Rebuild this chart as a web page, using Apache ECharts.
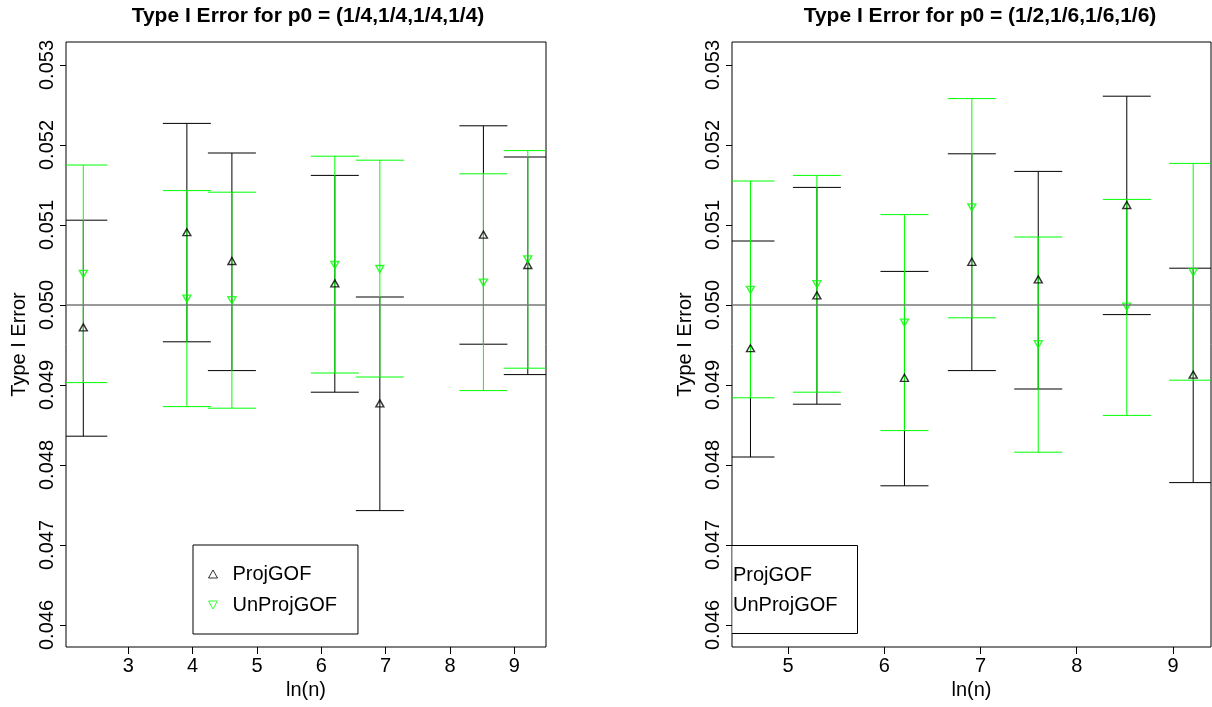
<!DOCTYPE html>
<html>
<head>
<meta charset="utf-8">
<script src="https://cdn.jsdelivr.net/npm/echarts@6/dist/echarts.min.js"></script>
<style>
  html, body { margin: 0; padding: 0; background: #fff; }
  #chart { width: 1212px; height: 707px; }
</style>
</head>
<body>
<div id="chart"></div>
<script>
// ---- data ----
// left panel: p0 = (1/4,1/4,1/4,1/4)
const xLeft = [2.30, 3.91, 4.61, 6.21, 6.91, 8.52, 9.21];
const projLeft = [0.04972, 0.05091, 0.05055, 0.05027, 0.04877, 0.05088, 0.05050];
const projLeftLo = [0.04836, 0.04954, 0.04918, 0.04891, 0.04743, 0.04951, 0.04913];
const projLeftHi = [0.05106, 0.05227, 0.05190, 0.05162, 0.05010, 0.05224, 0.05185];
const unprojLeft = [0.05039, 0.05008, 0.05006, 0.05050, 0.05045, 0.05028, 0.05057];
const unprojLeftLo = [0.04903, 0.04873, 0.04871, 0.04915, 0.04910, 0.04893, 0.04921];
const unprojLeftHi = [0.05175, 0.05143, 0.05141, 0.05186, 0.05181, 0.05164, 0.05193];

// right panel: p0 = (1/2,1/6,1/6,1/6)
const xRight = [4.61, 5.30, 6.21, 6.91, 7.60, 8.52, 9.21];
const projRight = [0.04946, 0.05012, 0.04909, 0.05054, 0.05032, 0.05125, 0.04913];
const projRightLo = [0.04810, 0.04876, 0.04774, 0.04918, 0.04895, 0.04988, 0.04778];
const projRightHi = [0.05080, 0.05147, 0.05042, 0.05189, 0.05167, 0.05261, 0.05046];
const unprojRight = [0.05019, 0.05026, 0.04978, 0.05122, 0.04951, 0.04998, 0.05041];
const unprojRightLo = [0.04884, 0.04891, 0.04843, 0.04984, 0.04816, 0.04862, 0.04906];
const unprojRightHi = [0.05155, 0.05162, 0.05113, 0.05258, 0.05085, 0.05132, 0.05177];

const yTicks = [0.046, 0.047, 0.048, 0.049, 0.050, 0.051, 0.052, 0.053];
const xTicksLeft = [3, 4, 5, 6, 7, 8, 9];
const xTicksRight = [5, 6, 7, 8, 9];
const refLevel = 0.05;

const FONT = 'Liberation Sans, Arial, Helvetica, sans-serif';
const GREEN = '#00ff00';

var chart = echarts.init(document.getElementById('chart'));

function zip(xs, ys) {
  return xs.map(function (x, i) { return [x, ys[i]]; });
}
function zipCI(xs, lo, hi) {
  return xs.map(function (x, i) { return [x, lo[i], hi[i]]; });
}

// error bar with caps, clipped to the plot box
function errorBar(color) {
  return function (params, api) {
    var lo = api.coord([api.value(0), api.value(1)]);
    var hi = api.coord([api.value(0), api.value(2)]);
    var cs = params.coordSys;
    var half = 24;
    var x0 = Math.max(cs.x, lo[0] - half);
    var x1 = Math.min(cs.x + cs.width, lo[0] + half);
    var style = { stroke: color, lineWidth: 1 };
    return {
      type: 'group',
      children: [
        { type: 'line', shape: { x1: lo[0], y1: lo[1], x2: hi[0], y2: hi[1] }, style: style },
        { type: 'line', shape: { x1: x0, y1: lo[1], x2: x1, y2: lo[1] }, style: style },
        { type: 'line', shape: { x1: x0, y1: hi[1], x2: x1, y2: hi[1] }, style: style }
      ]
    };
  };
}

function xAxisFor(idx, min, max, ticks) {
  return {
    gridIndex: idx, type: 'value', min: min, max: max,
    name: 'ln(n)', nameLocation: 'middle', nameGap: 32,
    nameTextStyle: { fontFamily: FONT, fontSize: 20, color: '#000' },
    axisLine: { show: false },
    axisTick: { show: true, length: 7, customValues: ticks, lineStyle: { color: '#000' } },
    axisLabel: { customValues: ticks, margin: 9, fontFamily: FONT, fontSize: 20, color: '#000' },
    splitLine: { show: false }
  };
}
function yAxisFor(idx) {
  return {
    gridIndex: idx, type: 'value', min: 0.045725, max: 0.0532875,
    name: 'Type I Error', nameLocation: 'middle', nameRotate: 90, nameGap: 37,
    nameTextStyle: { fontFamily: FONT, fontSize: 20, color: '#000' },
    axisLine: { show: false },
    axisTick: { show: true, length: 6, customValues: yTicks, lineStyle: { color: '#000' } },
    axisLabel: {
      customValues: yTicks, rotate: 90, margin: 9,
      fontFamily: FONT, fontSize: 20, color: '#000',
      formatter: function (v) { return v.toFixed(3); }
    },
    splitLine: { show: false }
  };
}

function panelSeries(idx, xs, proj, projLo, projHi, unproj, unprojLo, unprojHi) {
  return [
    {
      name: 'ref', type: 'line', xAxisIndex: idx, yAxisIndex: idx, data: [],
      markLine: {
        silent: true, symbol: 'none', label: { show: false },
        lineStyle: { color: '#777', width: 1.5, type: 'solid' },
        data: [{ yAxis: refLevel }]
      }
    },
    {
      name: 'ProjGOF CI', type: 'custom', xAxisIndex: idx, yAxisIndex: idx,
      renderItem: errorBar('#000'), encode: { x: 0, y: [1, 2] },
      data: zipCI(xs, projLo, projHi), z: 2
    },
    {
      name: 'UnProjGOF CI', type: 'custom', xAxisIndex: idx, yAxisIndex: idx,
      renderItem: errorBar(GREEN), encode: { x: 0, y: [1, 2] },
      data: zipCI(xs, unprojLo, unprojHi), z: 3
    },
    {
      name: 'ProjGOF', type: 'scatter', xAxisIndex: idx, yAxisIndex: idx,
      symbol: 'triangle', symbolSize: [8, 7],
      itemStyle: { color: 'rgba(0,0,0,0)', borderColor: '#000', borderWidth: 1.4 },
      data: zip(xs, proj), z: 4
    },
    {
      name: 'UnProjGOF', type: 'scatter', xAxisIndex: idx, yAxisIndex: idx,
      symbol: 'triangle', symbolRotate: 180, symbolSize: [8, 7],
      itemStyle: { color: 'rgba(0,0,0,0)', borderColor: GREEN, borderWidth: 1.4 },
      data: zip(xs, unproj), z: 4
    }
  ];
}

var option = {
  animation: false,
  backgroundColor: '#fff',
  title: [
    {
      text: 'Type I Error for p0 = (1/4,1/4,1/4,1/4)', left: 308, top: 6, textAlign: 'center', padding: 0,
      textStyle: { fontFamily: FONT, fontSize: 21, fontWeight: 'bold', color: '#000' }
    },
    {
      text: 'Type I Error for p0 = (1/2,1/6,1/6,1/6)', left: 980, top: 6, textAlign: 'center', padding: 0,
      textStyle: { fontFamily: FONT, fontSize: 21, fontWeight: 'bold', color: '#000' }
    }
  ],
  grid: [
    { left: 66, top: 42, width: 480, height: 605, show: true, borderColor: '#000', borderWidth: 1, backgroundColor: 'transparent' },
    { left: 732, top: 42, width: 479, height: 605, show: true, borderColor: '#000', borderWidth: 1, backgroundColor: 'transparent' }
  ],
  xAxis: [xAxisFor(0, 2.031, 9.493, xTicksLeft), xAxisFor(1, 4.418, 9.395, xTicksRight)],
  yAxis: [yAxisFor(0), yAxisFor(1)],
  legend: {
    left: 193, top: 545, orient: 'vertical',
    width: 165,
    padding: [19, 21, 19, 15], itemGap: 11,
    itemWidth: 9, itemHeight: 8,
    borderColor: '#000', borderWidth: 1, backgroundColor: '#fff',
    textStyle: { fontFamily: FONT, fontSize: 20, color: '#000', padding: [0, 0, 0, 10] },
    data: [
      { name: 'ProjGOF', icon: 'triangle', itemStyle: { color: 'rgba(0,0,0,0)', borderColor: '#000', borderWidth: 1 } },
      { name: 'UnProjGOF', icon: 'path://M0,0L10,0L5,9Z', itemStyle: { color: 'rgba(0,0,0,0)', borderColor: GREEN, borderWidth: 1 } }
    ],
    selectedMode: false
  },
  graphic: [
    {
      type: 'group', z: 100,
      children: [
        { type: 'rect', shape: { x: 732.5, y: 545, width: 124.5, height: 88 }, style: { fill: '#fff' } },
        { type: 'polyline', shape: { points: [[726, 545.5], [857.5, 545.5], [857.5, 633.5], [732, 633.5]] }, style: { stroke: '#000', fill: null, lineWidth: 1 } },
        { type: 'text', x: 733, y: 575, style: { text: 'ProjGOF', font: '20px ' + FONT, fill: '#000', verticalAlign: 'middle' } },
        { type: 'text', x: 733, y: 605, style: { text: 'UnProjGOF', font: '20px ' + FONT, fill: '#000', verticalAlign: 'middle' } }
      ]
    }
  ],
  series: [].concat(
    panelSeries(0, xLeft, projLeft, projLeftLo, projLeftHi, unprojLeft, unprojLeftLo, unprojLeftHi),
    panelSeries(1, xRight, projRight, projRightLo, projRightHi, unprojRight, unprojRightLo, unprojRightHi)
  )
};

chart.setOption(option);
</script>
</body>
</html>
